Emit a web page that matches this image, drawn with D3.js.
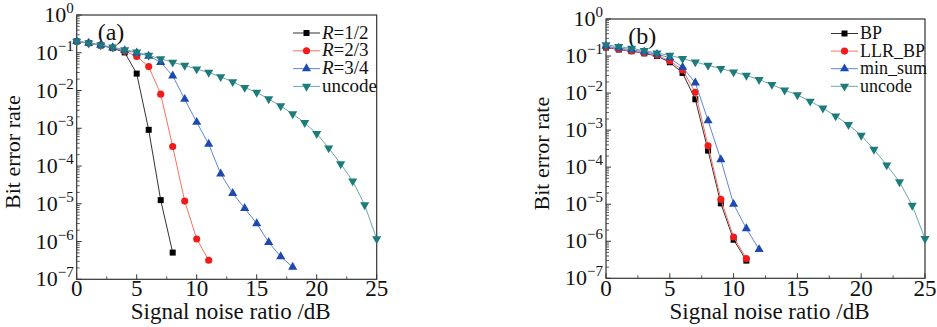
<!DOCTYPE html>
<html>
<head>
<meta charset="utf-8">
<script src="https://cdn.jsdelivr.net/npm/d3@7"></script>
<style>
  body { margin: 0; background: #fff; }
  svg { display: block; }
</style>
</head>
<body>
<svg id="chart" width="937" height="327"></svg>
<script>
// x values (SNR in dB)
const snr = d3.range(0, 26);
const yTickExps = [0, -1, -2, -3, -4, -5, -6, -7];
const xTickVals = [0, 5, 10, 15, 20, 25];

// panel (a) series
const rHalf = [0.2, 0.18, 0.156, 0.133, 0.102, 0.028, 9.1e-4, 1.25e-5, 5.1e-7];
const rTwoThirds = [0.2, 0.18, 0.16, 0.135, 0.11, 0.08, 0.043, 0.008, 3.3e-4, 1.18e-5, 1.17e-6, 3.2e-7];
const rThreeQuarters = [0.2, 0.18, 0.16, 0.137, 0.115, 0.1, 0.082, 0.056, 0.0245, 0.0059, 1.45e-3, 3.8e-4,
  6.2e-5, 1.9e-5, 7.6e-6, 3e-6, 9.5e-7, 4e-7, 2.1e-7];
const uncode = [0.2, 0.18, 0.16, 0.14, 0.12, 0.104, 0.085, 0.069, 0.056, 0.046, 0.037, 0.03, 0.023,
  0.017, 0.012, 0.0089, 0.006, 0.0039, 0.0024, 0.0014, 7.2e-4, 3e-4, 1.14e-4, 4e-5, 9.3e-6, 1.17e-6];

// panel (b) series
const bp = [0.17, 0.15, 0.135, 0.118, 0.1, 0.068, 0.035, 0.0068, 2.8e-4, 1.05e-5, 1.1e-6, 3e-7];
const llrBp = [0.175, 0.155, 0.138, 0.122, 0.105, 0.074, 0.042, 0.0105, 3.8e-4, 1.35e-5, 1.3e-6, 3.4e-7];
const minSum = [0.185, 0.165, 0.148, 0.13, 0.112, 0.09, 0.05, 0.019, 1.8e-3, 1.6e-4, 1e-5, 2.2e-6, 6e-7];

const svg = d3.select("#chart");
const FONT = "'Liberation Serif'";

const seriesStyle = {
  black: { line: "#333", fill: "#000", shape: d3.symbolSquare, size: 36, rot: 0 },
  red: { line: "#ff6f61", fill: "#f21b1b", shape: d3.symbolCircle, size: 40, rot: 0 },
  blue: { line: "#5f86d6", fill: "#1d49b0", shape: d3.symbolTriangle, size: 36, rot: 0 },
  teal: { line: "#6fa9a9", fill: "#1e7b7b", shape: d3.symbolTriangle, size: 36, rot: 180 }
};

function addText(g, size) {
  return g.append("text").style("font-family", FONT).style("font-size", size + "px").attr("fill", "#111");
}

function drawPanel(p) {
  const g = svg.append("g");
  const x = d3.scaleLinear().domain([0, 25]).range([p.left, p.left + p.width]);
  const y = d3.scaleLog().domain([1e-7, 1]).range([p.top + p.height, p.top]);

  // frame
  g.append("rect")
    .attr("x", p.left).attr("y", p.top)
    .attr("width", p.width).attr("height", p.height)
    .attr("fill", "none").attr("stroke", "#333").attr("stroke-width", 1.2);

  // y ticks (inside), major + minor
  const minor = [];
  for (let e = -7; e < 0; e++) for (let k = 2; k <= 9; k++) minor.push(k * Math.pow(10, e));
  g.selectAll(".ymin").data(minor).join("line")
    .attr("x1", p.left).attr("x2", p.left + 3)
    .attr("y1", d => y(d)).attr("y2", d => y(d))
    .attr("stroke", "#333").attr("stroke-width", 0.8);
  g.selectAll(".ymaj").data(yTickExps).join("line")
    .attr("x1", p.left).attr("x2", p.left + 5)
    .attr("y1", d => y(Math.pow(10, d))).attr("y2", d => y(Math.pow(10, d)))
    .attr("stroke", "#333").attr("stroke-width", 1);

  yTickExps.forEach(e => {
    const t = addText(g, 22)
      .attr("x", p.left - 3)
      .attr("y", y(Math.pow(10, e)) + 7)
      .attr("text-anchor", "end");
    t.append("tspan").text("10");
    t.append("tspan").attr("dy", -9).style("font-size", "15px")
      .text(e === 0 ? "0" : "\u2212" + (-e));
  });

  // x ticks (inside), major + minor
  g.selectAll(".xmaj").data(xTickVals).join("line")
    .attr("x1", d => x(d)).attr("x2", d => x(d))
    .attr("y1", p.top + p.height).attr("y2", p.top + p.height - 5)
    .attr("stroke", "#333").attr("stroke-width", 1);
  g.selectAll(".xmin").data([2.5, 7.5, 12.5, 17.5, 22.5]).join("line")
    .attr("x1", d => x(d)).attr("x2", d => x(d))
    .attr("y1", p.top + p.height).attr("y2", p.top + p.height - 3)
    .attr("stroke", "#333").attr("stroke-width", 0.8);
  xTickVals.forEach(v => {
    addText(g, 23)
      .attr("x", x(v))
      .attr("y", 296)
      .attr("text-anchor", "middle")
      .text(v);
  });

  // axis titles
  addText(g, 23)
    .attr("x", p.left + p.width / 2 + 4)
    .attr("y", 319)
    .attr("text-anchor", "middle")
    .text("Signal noise ratio /dB");
  addText(g, 22)
    .attr("transform", `translate(${p.left - 57},${p.top + p.height / 2 + 5}) rotate(-90)`)
    .attr("text-anchor", "middle")
    .text("Bit error rate");

  // panel letter
  addText(g, 24)
    .attr("x", x(1.75)).attr("y", p.top + 25)
    .text(p.tag);

  // series
  p.series.forEach(s => {
    const st = seriesStyle[s.style];
    const pts = s.values.map((v, i) => [snr[i], v]);
    g.append("path")
      .attr("d", d3.line().x(d => x(d[0])).y(d => y(d[1]))(pts))
      .attr("fill", "none").attr("stroke", st.line).attr("stroke-width", 1);
    g.selectAll(null).data(pts).join("path")
      .attr("d", d3.symbol().type(st.shape).size(st.size))
      .attr("transform", d => `translate(${x(d[0])},${y(d[1])}) rotate(${st.rot})`)
      .attr("fill", st.fill);
  });

  // legend
  p.series.forEach((s, i) => {
    const st = seriesStyle[s.style];
    const ly = p.legendY + i * p.legendStep;
    g.append("line")
      .attr("x1", p.legendX).attr("x2", p.legendX + 27)
      .attr("y1", ly).attr("y2", ly)
      .attr("stroke", st.line).attr("stroke-width", 1);
    g.append("path")
      .attr("d", d3.symbol().type(st.shape).size(st.size)())
      .attr("transform", `translate(${p.legendX + 13.5},${ly}) rotate(${st.rot})`)
      .attr("fill", st.fill);
    const t = addText(g, p.legendFont)
      .attr("x", p.legendX + 29).attr("y", ly + 5.5);
    if (s.label.startsWith("R=")) {
      t.append("tspan").style("font-style", "italic").text("R");
      t.append("tspan").text(s.label.slice(1));
    } else {
      t.text(s.label);
    }
  });
}

drawPanel({
  tag: "(a)", left: 76.7, top: 15, width: 300, height: 264.3,
  legendX: 293, legendY: 33, legendStep: 17.8, legendFont: 19,
  series: [
    { label: "R=1/2", values: rHalf, style: "black" },
    { label: "R=2/3", values: rTwoThirds, style: "red" },
    { label: "R=3/4", values: rThreeQuarters, style: "blue" },
    { label: "uncode", values: uncode, style: "teal" }
  ]
});

drawPanel({
  tag: "(b)", left: 606, top: 19, width: 319, height: 259.3,
  legendX: 831, legendY: 33.5, legendStep: 17.6, legendFont: 18,
  series: [
    { label: "BP", values: bp, style: "black" },
    { label: "LLR_BP", values: llrBp, style: "red" },
    { label: "min_sum", values: minSum, style: "blue" },
    { label: "uncode", values: uncode, style: "teal" }
  ]
});
</script>
</body>
</html>
